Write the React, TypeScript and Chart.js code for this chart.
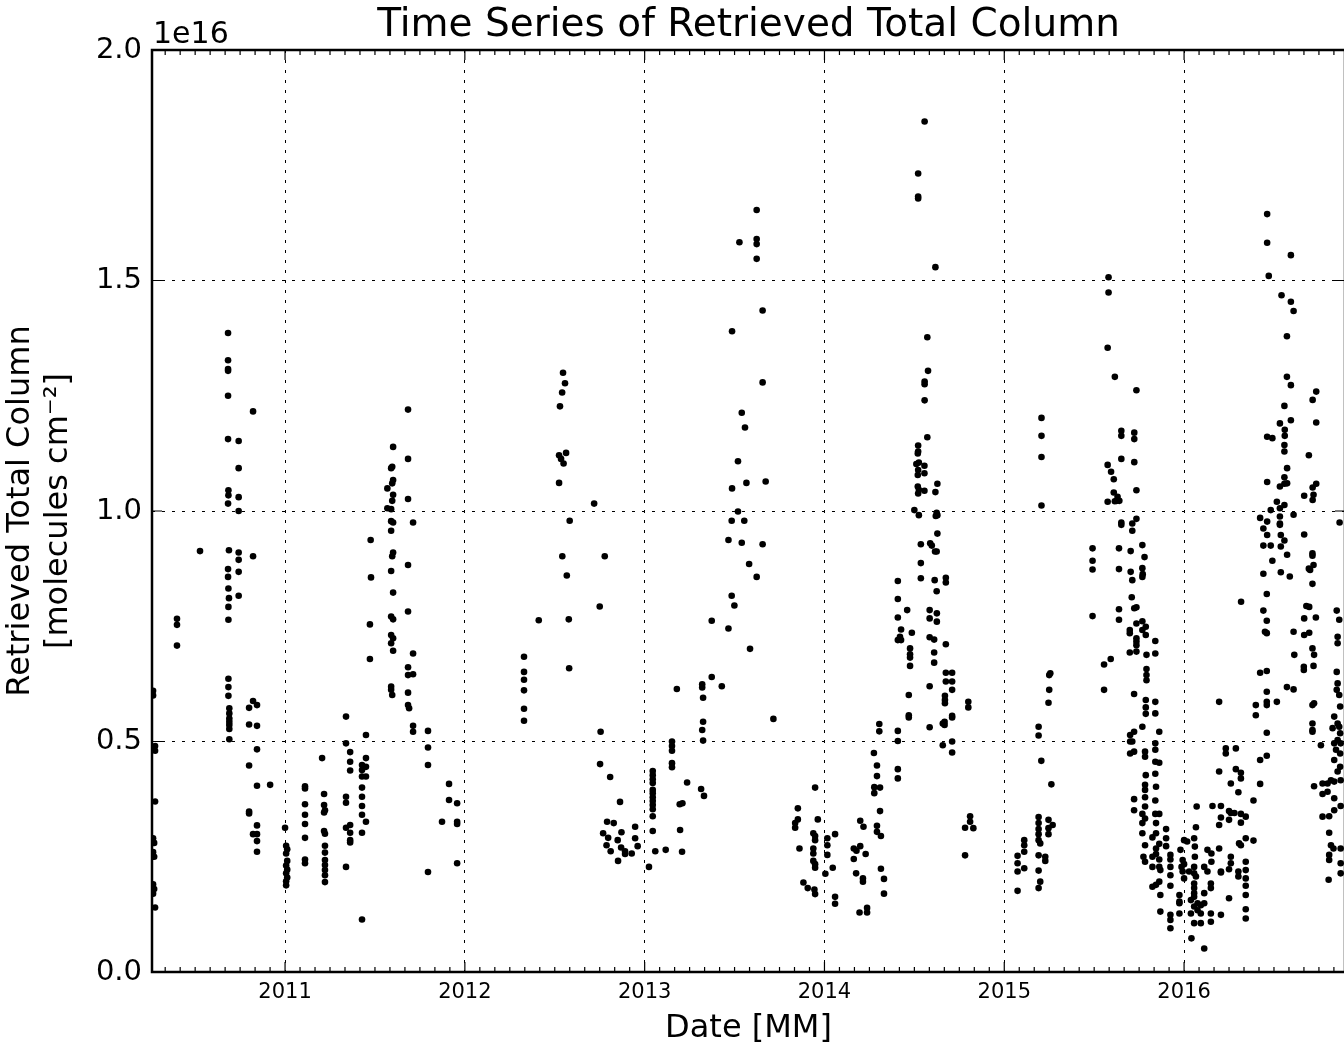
import React, { useEffect, useRef } from "react";
import { Chart, registerables } from "chart.js";

Chart.register(...registerables);

const FONT = "'DejaVu Sans', sans-serif";
const TITLE = "Time Series of Retrieved Total Column";
const X_TITLE = "Date [MM]";
const Y_TITLE = ["Retrieved Total Column", "[molecules cm\u207B\u00B2]"];
const OFFSET_TEXT = "1e16";
const YEAR_TICKS = [2011, 2012, 2013, 2014, 2015, 2016];
const Y_TICKS = [0, 0.5, 1.0, 1.5, 2.0];
const X_MIN = 2010.26;
const X_MAX = 2016.895;
const Y_MIN = 0;
const Y_MAX = 2.0;
const MONTHS_PER_YEAR = 12;

type P = [number, number]; // [decimal year, total column in 1e16 molecules cm^-2]

const season2010: P[] = [
  [2010.266, 0.61], [2010.266, 0.6], [2010.277, 0.49], [2010.277, 0.48], [2010.277, 0.37], [2010.266, 0.29],
  [2010.272, 0.28], [2010.266, 0.26], [2010.272, 0.25], [2010.266, 0.19], [2010.272, 0.18], [2010.266, 0.17], [2010.277, 0.14],
  [2010.399, 0.766], [2010.399, 0.753], [2010.399, 0.708], [2010.527, 0.913],
  [2010.683, 1.386], [2010.683, 1.327], [2010.683, 1.308], [2010.683, 1.304], [2010.683, 1.25], [2010.683, 1.156],
  [2010.685, 1.045], [2010.685, 1.034], [2010.683, 1.016], [2010.688, 0.915], [2010.683, 0.874], [2010.683, 0.857],
  [2010.685, 0.832], [2010.688, 0.811], [2010.685, 0.792], [2010.685, 0.764], [2010.685, 0.636], [2010.685, 0.618],
  [2010.685, 0.599], [2010.69, 0.572], [2010.69, 0.561], [2010.69, 0.55], [2010.69, 0.543], [2010.69, 0.536],
  [2010.69, 0.527], [2010.69, 0.505],
  [2010.742, 1.152], [2010.742, 1.093], [2010.742, 1.03], [2010.742, 1.0], [2010.742, 0.91], [2010.742, 0.894],
  [2010.742, 0.868], [2010.742, 0.816],
  [2010.822, 1.216], [2010.822, 0.902], [2010.8, 0.573], [2010.822, 0.588], [2010.844, 0.579], [2010.8, 0.537],
  [2010.844, 0.534], [2010.844, 0.483], [2010.8, 0.448], [2010.844, 0.404], [2010.8, 0.348], [2010.8, 0.344],
  [2010.844, 0.318], [2010.822, 0.299], [2010.844, 0.299], [2010.844, 0.284], [2010.844, 0.261], [2010.917, 0.406],
];

const season2011: P[] = [
  [2011.0, 0.313], [2011.006, 0.274], [2011.012, 0.266], [2011.006, 0.257], [2011.012, 0.241], [2011.006, 0.231],
  [2011.012, 0.222], [2011.006, 0.214], [2011.012, 0.205], [2011.006, 0.197], [2011.006, 0.188],
  [2011.111, 0.403], [2011.111, 0.398], [2011.111, 0.364], [2011.111, 0.341], [2011.111, 0.321], [2011.111, 0.291],
  [2011.111, 0.244], [2011.111, 0.236],
  [2011.206, 0.464], [2011.217, 0.386], [2011.217, 0.362], [2011.222, 0.351], [2011.217, 0.346], [2011.217, 0.306],
  [2011.222, 0.3], [2011.222, 0.274], [2011.222, 0.259], [2011.222, 0.243], [2011.222, 0.232], [2011.222, 0.221],
  [2011.222, 0.21], [2011.222, 0.195],
  [2011.339, 0.554], [2011.339, 0.496], [2011.339, 0.38], [2011.339, 0.367], [2011.339, 0.313], [2011.339, 0.228],
  [2011.362, 0.477], [2011.362, 0.456], [2011.362, 0.437], [2011.362, 0.319], [2011.362, 0.302], [2011.362, 0.286],
  [2011.362, 0.281],
  [2011.428, 0.449], [2011.428, 0.438], [2011.428, 0.424], [2011.428, 0.4], [2011.428, 0.38], [2011.428, 0.36],
  [2011.428, 0.341], [2011.428, 0.302], [2011.428, 0.114],
  [2011.45, 0.514], [2011.45, 0.464], [2011.45, 0.445], [2011.45, 0.424], [2011.45, 0.326],
  [2011.476, 0.937], [2011.478, 0.856], [2011.472, 0.754], [2011.472, 0.679],
  [2011.601, 1.139], [2011.596, 1.096], [2011.59, 1.093], [2011.601, 1.067], [2011.596, 1.06], [2011.569, 1.049],
  [2011.601, 1.035], [2011.596, 1.022], [2011.569, 1.006], [2011.59, 1.004], [2011.59, 0.978], [2011.601, 0.975],
  [2011.59, 0.957], [2011.601, 0.91], [2011.596, 0.902], [2011.59, 0.87], [2011.601, 0.823], [2011.59, 0.771],
  [2011.601, 0.765], [2011.59, 0.731], [2011.601, 0.724], [2011.59, 0.713], [2011.601, 0.697], [2011.59, 0.619],
  [2011.59, 0.612], [2011.596, 0.601],
  [2011.684, 1.22], [2011.684, 1.113], [2011.684, 1.026], [2011.684, 0.883], [2011.684, 0.782], [2011.684, 0.661],
  [2011.684, 0.644], [2011.684, 0.606], [2011.684, 0.579], [2011.69, 0.572],
  [2011.712, 0.975], [2011.712, 0.691], [2011.712, 0.646], [2011.712, 0.534], [2011.712, 0.521],
  [2011.795, 0.523], [2011.795, 0.487], [2011.795, 0.449], [2011.795, 0.217],
  [2011.873, 0.326], [2011.912, 0.408], [2011.912, 0.373], [2011.957, 0.366], [2011.957, 0.326], [2011.957, 0.321],
  [2011.957, 0.236],
];

const season2012: P[] = [
  [2012.329, 0.684], [2012.329, 0.651], [2012.329, 0.634], [2012.329, 0.611], [2012.329, 0.571], [2012.329, 0.545],
  [2012.411, 0.763],
  [2012.546, 1.3], [2012.557, 1.277], [2012.541, 1.257], [2012.529, 1.227], [2012.563, 1.126], [2012.524, 1.121],
  [2012.535, 1.113], [2012.549, 1.103], [2012.524, 1.061], [2012.583, 0.979], [2012.542, 0.902], [2012.567, 0.86],
  [2012.578, 0.765], [2012.58, 0.659],
  [2012.719, 1.016], [2012.778, 0.902], [2012.75, 0.793], [2012.755, 0.521], [2012.752, 0.451], [2012.808, 0.423],
  [2012.863, 0.369],
  [2012.791, 0.326], [2012.828, 0.323], [2012.769, 0.301], [2012.797, 0.291], [2012.871, 0.303], [2012.947, 0.315],
  [2012.947, 0.29], [2012.85, 0.286], [2012.788, 0.275], [2012.961, 0.273], [2012.869, 0.27], [2012.811, 0.262],
  [2012.891, 0.262], [2012.891, 0.256], [2012.928, 0.257], [2012.852, 0.241],
];

const season2013: P[] = [
  [2013.024, 0.228],
  [2013.045, 0.436], [2013.045, 0.427], [2013.045, 0.418], [2013.045, 0.41], [2013.045, 0.395], [2013.045, 0.388],
  [2013.045, 0.379], [2013.045, 0.371], [2013.045, 0.362], [2013.045, 0.353], [2013.045, 0.338], [2013.045, 0.306],
  [2013.059, 0.262], [2013.117, 0.265],
  [2013.152, 0.5], [2013.152, 0.49], [2013.152, 0.48], [2013.152, 0.453], [2013.152, 0.444],
  [2013.179, 0.614], [2013.236, 0.411], [2013.195, 0.364], [2013.21, 0.366], [2013.197, 0.308], [2013.208, 0.261],
  [2013.314, 0.397], [2013.33, 0.382],
  [2013.32, 0.624], [2013.32, 0.617], [2013.325, 0.595], [2013.325, 0.543], [2013.32, 0.525], [2013.325, 0.502],
  [2013.373, 0.64], [2013.373, 0.762], [2013.429, 0.62], [2013.466, 0.745], [2013.484, 0.816], [2013.499, 0.795],
  [2013.586, 0.701], [2013.581, 0.885], [2013.623, 0.857], [2013.716, 0.549],
  [2013.623, 1.653], [2013.623, 1.59], [2013.623, 1.579], [2013.623, 1.547], [2013.527, 1.583], [2013.656, 1.435],
  [2013.656, 1.279], [2013.656, 0.928], [2013.486, 1.39], [2013.486, 1.049], [2013.484, 0.979], [2013.54, 1.213],
  [2013.54, 0.931], [2013.558, 1.181], [2013.554, 0.979], [2013.519, 1.108], [2013.519, 0.999], [2013.566, 1.061],
  [2013.673, 1.064], [2013.466, 0.937],
  [2013.948, 0.4], [2013.852, 0.355], [2013.852, 0.331], [2013.837, 0.323], [2013.837, 0.313], [2013.963, 0.331],
  [2013.938, 0.301], [2013.948, 0.295], [2013.948, 0.286], [2013.861, 0.268], [2013.938, 0.268], [2013.938, 0.257],
  [2013.938, 0.241], [2013.948, 0.234], [2013.948, 0.226], [2013.883, 0.194], [2013.907, 0.182], [2013.944, 0.179],
  [2013.948, 0.169],
];

const season2014: P[] = [
  [2014.016, 0.29], [2014.016, 0.275], [2014.059, 0.299], [2014.016, 0.254], [2014.046, 0.226], [2014.005, 0.213],
  [2014.059, 0.163], [2014.059, 0.148],
  [2014.199, 0.328], [2014.217, 0.315], [2014.163, 0.268], [2014.178, 0.263], [2014.199, 0.273], [2014.229, 0.256],
  [2014.163, 0.245], [2014.176, 0.214], [2014.214, 0.203], [2014.214, 0.196], [2014.195, 0.129], [2014.237, 0.139],
  [2014.237, 0.129],
  [2014.305, 0.538], [2014.305, 0.522], [2014.275, 0.475], [2014.292, 0.448], [2014.292, 0.425], [2014.277, 0.401],
  [2014.277, 0.388], [2014.309, 0.4], [2014.309, 0.349], [2014.292, 0.317], [2014.292, 0.304], [2014.314, 0.295],
  [2014.314, 0.224], [2014.331, 0.202], [2014.331, 0.17],
  [2014.408, 0.848], [2014.408, 0.809], [2014.408, 0.769], [2014.408, 0.72], [2014.408, 0.523], [2014.408, 0.501],
  [2014.408, 0.44], [2014.408, 0.42], [2014.426, 0.743], [2014.42, 0.727], [2014.426, 0.72], [2014.46, 0.785],
  [2014.486, 0.736],
  [2014.476, 0.702], [2014.476, 0.689], [2014.476, 0.682], [2014.476, 0.664], [2014.469, 0.601], [2014.469, 0.557],
  [2014.469, 0.552],
  [2014.557, 1.845], [2014.521, 1.732], [2014.521, 1.682], [2014.521, 1.678], [2014.617, 1.529], [2014.572, 1.377],
  [2014.576, 1.304], [2014.557, 1.281], [2014.557, 1.275], [2014.557, 1.24], [2014.572, 1.16], [2014.521, 1.142],
  [2014.521, 1.129], [2014.519, 1.125], [2014.511, 1.102], [2014.525, 1.105], [2014.556, 1.098], [2014.521, 1.089],
  [2014.519, 1.078], [2014.556, 1.082], [2014.628, 1.059], [2014.519, 1.053], [2014.525, 1.046], [2014.521, 1.038],
  [2014.556, 1.044], [2014.617, 1.041], [2014.5, 1.002], [2014.525, 0.991], [2014.624, 0.996], [2014.628, 0.991],
  [2014.619, 0.989],
  [2014.628, 0.951], [2014.536, 0.928], [2014.588, 0.93], [2014.597, 0.925], [2014.615, 0.912], [2014.624, 0.912],
  [2014.536, 0.887], [2014.536, 0.854], [2014.613, 0.85], [2014.675, 0.855], [2014.675, 0.845], [2014.624, 0.826],
  [2014.585, 0.785], [2014.585, 0.767], [2014.625, 0.778], [2014.625, 0.76], [2014.585, 0.726], [2014.61, 0.721],
  [2014.675, 0.711], [2014.61, 0.693], [2014.61, 0.671], [2014.675, 0.649], [2014.71, 0.649], [2014.675, 0.63],
  [2014.71, 0.63], [2014.71, 0.612], [2014.67, 0.599], [2014.67, 0.59], [2014.67, 0.583], [2014.585, 0.62],
  [2014.8, 0.586], [2014.8, 0.574], [2014.71, 0.556], [2014.71, 0.552], [2014.585, 0.531], [2014.668, 0.543],
  [2014.658, 0.539], [2014.668, 0.536], [2014.658, 0.492], [2014.71, 0.5], [2014.71, 0.476],
  [2014.782, 0.253], [2014.81, 0.338], [2014.81, 0.326], [2014.782, 0.313], [2014.828, 0.312],
];

const season2015: P[] = [
  [2015.074, 0.252], [2015.074, 0.236], [2015.074, 0.218], [2015.074, 0.176],
  [2015.111, 0.286], [2015.111, 0.275], [2015.111, 0.261], [2015.111, 0.225],
  [2015.191, 0.532], [2015.191, 0.513], [2015.207, 1.202], [2015.207, 1.163], [2015.207, 1.117], [2015.207, 1.012],
  [2015.206, 0.458], [2015.262, 0.407],
  [2015.25, 0.644], [2015.25, 0.612], [2015.246, 0.584], [2015.256, 0.648],
  [2015.246, 0.33], [2015.246, 0.312], [2015.246, 0.299], [2015.269, 0.319],
  [2015.191, 0.336], [2015.191, 0.323], [2015.191, 0.31], [2015.191, 0.299], [2015.191, 0.286], [2015.2, 0.279],
  [2015.191, 0.253], [2015.228, 0.25], [2015.228, 0.241], [2015.191, 0.22], [2015.2, 0.196], [2015.191, 0.182],
  [2015.491, 0.919], [2015.491, 0.892], [2015.491, 0.873], [2015.491, 0.772],
];

const season2015Late: P[] = [
  [2015.58, 1.507], [2015.58, 1.474], [2015.575, 1.354], [2015.615, 1.291], [2015.735, 1.262], [2015.651, 1.174],
  [2015.651, 1.163], [2015.723, 1.17], [2015.723, 1.156], [2015.651, 1.113], [2015.723, 1.106], [2015.575, 1.1],
  [2015.594, 1.085], [2015.609, 1.069], [2015.735, 1.045], [2015.609, 1.04], [2015.63, 1.031], [2015.64, 1.022],
  [2015.615, 1.021], [2015.575, 1.02], [2015.625, 1.022], [2015.651, 0.975], [2015.651, 0.97], [2015.712, 0.973],
  [2015.712, 0.957], [2015.735, 0.983], [2015.768, 0.926], [2015.78, 0.9], [2015.768, 0.876], [2015.77, 0.863],
  [2015.768, 0.857], [2015.638, 0.919], [2015.703, 0.913], [2015.638, 0.874], [2015.703, 0.868], [2015.712, 0.85],
  [2015.638, 0.787], [2015.638, 0.764], [2015.709, 0.813], [2015.723, 0.789], [2015.735, 0.791], [2015.698, 0.742],
  [2015.698, 0.735], [2015.735, 0.756], [2015.735, 0.724], [2015.735, 0.717], [2015.735, 0.709], [2015.698, 0.693],
  [2015.735, 0.695], [2015.768, 0.761], [2015.787, 0.749], [2015.768, 0.742], [2015.787, 0.731], [2015.84, 0.718],
  [2015.84, 0.691], [2015.791, 0.688], [2015.555, 0.667], [2015.592, 0.679], [2015.555, 0.612], [2015.791, 0.657],
  [2015.791, 0.644], [2015.791, 0.633], [2015.722, 0.603], [2015.787, 0.59], [2015.84, 0.586], [2015.787, 0.574],
  [2015.787, 0.56], [2015.84, 0.561], [2015.768, 0.532], [2015.722, 0.521], [2015.862, 0.521], [2015.7, 0.514],
  [2015.7, 0.5], [2015.712, 0.5], [2015.7, 0.474], [2015.722, 0.478], [2015.783, 0.478], [2015.783, 0.467],
  [2015.84, 0.496], [2015.84, 0.482], [2015.84, 0.456], [2015.862, 0.454],
  [2015.787, 0.427], [2015.84, 0.43], [2015.783, 0.406], [2015.844, 0.402], [2015.783, 0.395], [2015.783, 0.379],
  [2015.84, 0.372], [2015.722, 0.375], [2015.722, 0.351], [2015.783, 0.359], [2015.768, 0.343], [2015.783, 0.333],
  [2015.84, 0.343], [2015.862, 0.343], [2015.768, 0.323], [2015.844, 0.323], [2015.844, 0.301], [2015.824, 0.292],
  [2015.768, 0.301], [2015.783, 0.275], [2015.9, 0.31], [2015.9, 0.29], [2015.9, 0.273], [2015.862, 0.278],
  [2015.844, 0.268], [2015.844, 0.256], [2015.824, 0.25], [2015.774, 0.25], [2015.783, 0.239], [2015.862, 0.244],
  [2015.824, 0.228], [2015.862, 0.228], [2015.924, 0.254], [2015.924, 0.244], [2015.924, 0.228], [2015.924, 0.21],
  [2015.868, 0.221], [2015.862, 0.196], [2015.824, 0.185], [2015.844, 0.189], [2015.924, 0.187], [2015.868, 0.167],
  [2015.974, 0.167], [2015.974, 0.153], [2015.924, 0.124], [2015.924, 0.113], [2015.924, 0.095], [2015.868, 0.131],
  [2015.974, 0.127], [2015.974, 0.149], [2015.98, 0.265], [2015.992, 0.243], [2015.986, 0.228], [2015.992, 0.218],
];

const season2016: P[] = [
  [2016.0, 0.286], [2016.017, 0.283], [2016.056, 0.29], [2016.066, 0.314], [2016.06, 0.272], [2016.06, 0.25],
  [2016.0, 0.234], [2016.0, 0.203], [2016.028, 0.218], [2016.056, 0.228], [2016.056, 0.214], [2016.066, 0.207],
  [2016.056, 0.192], [2016.056, 0.182], [2016.056, 0.171], [2016.056, 0.163], [2016.038, 0.156], [2016.075, 0.149],
  [2016.056, 0.142], [2016.093, 0.145], [2016.112, 0.149], [2016.075, 0.134], [2016.038, 0.127], [2016.093, 0.127],
  [2016.056, 0.106], [2016.093, 0.106], [2016.112, 0.228], [2016.13, 0.265], [2016.152, 0.257], [2016.152, 0.239],
  [2016.13, 0.218], [2016.149, 0.192], [2016.149, 0.182], [2016.112, 0.171], [2016.205, 0.124], [2016.149, 0.127],
  [2016.149, 0.109], [2016.205, 0.218], [2016.195, 0.268], [2016.041, 0.073], [2016.112, 0.051], [2016.07, 0.359],
  [2016.195, 0.586], [2016.158, 0.36], [2016.205, 0.36], [2016.205, 0.335], [2016.195, 0.319], [2016.232, 0.485],
  [2016.288, 0.485], [2016.232, 0.474], [2016.195, 0.435], [2016.288, 0.44], [2016.316, 0.432], [2016.316, 0.42],
  [2016.26, 0.409], [2016.302, 0.39], [2016.25, 0.349], [2016.26, 0.345], [2016.28, 0.345], [2016.316, 0.343],
  [2016.343, 0.337], [2016.25, 0.33], [2016.316, 0.324], [2016.386, 0.372], [2016.343, 0.29], [2016.386, 0.285],
  [2016.306, 0.279], [2016.316, 0.275], [2016.26, 0.25], [2016.26, 0.236], [2016.25, 0.223], [2016.205, 0.216],
  [2016.302, 0.218], [2016.302, 0.207], [2016.343, 0.239], [2016.343, 0.221], [2016.343, 0.203], [2016.343, 0.187],
  [2016.343, 0.167], [2016.343, 0.136], [2016.343, 0.116], [2016.25, 0.16], [2016.423, 0.46], [2016.423, 0.408],
  [2016.46, 0.469], [2016.46, 0.519], [2016.399, 0.579], [2016.399, 0.557], [2016.46, 0.608], [2016.46, 0.586],
  [2016.46, 0.579], [2016.516, 0.586], [2016.423, 0.649], [2016.46, 0.653],
  [2016.462, 1.644], [2016.462, 1.582], [2016.594, 1.555], [2016.471, 1.51], [2016.542, 1.468], [2016.594, 1.454],
  [2016.609, 1.434], [2016.572, 1.379], [2016.572, 1.291], [2016.594, 1.273], [2016.735, 1.259], [2016.715, 1.241],
  [2016.558, 1.228], [2016.735, 1.192], [2016.533, 1.19], [2016.594, 1.197], [2016.56, 1.176], [2016.56, 1.163],
  [2016.462, 1.161], [2016.491, 1.158], [2016.558, 1.143], [2016.558, 1.129], [2016.694, 1.121], [2016.573, 1.093],
  [2016.462, 1.063], [2016.558, 1.073], [2016.533, 1.053], [2016.558, 1.059], [2016.573, 1.06], [2016.735, 1.059],
  [2016.715, 1.051], [2016.72, 1.035], [2016.668, 1.033], [2016.715, 1.024], [2016.516, 1.02], [2016.482, 1.002],
  [2016.558, 1.013], [2016.533, 1.006], [2016.609, 0.992], [2016.423, 0.985], [2016.462, 0.977], [2016.441, 0.962],
  [2016.533, 0.988], [2016.533, 0.973], [2016.533, 0.97], [2016.462, 0.948], [2016.538, 0.948], [2016.558, 0.936],
  [2016.538, 0.923], [2016.441, 0.925], [2016.482, 0.925], [2016.573, 0.905], [2016.491, 0.892], [2016.668, 0.949],
  [2016.714, 0.908], [2016.714, 0.903], [2016.694, 0.875], [2016.701, 0.872], [2016.72, 0.883], [2016.714, 0.842],
  [2016.441, 0.864], [2016.538, 0.867], [2016.588, 0.858], [2016.865, 0.975],
  [2016.46, 0.82], [2016.441, 0.784], [2016.46, 0.762], [2016.45, 0.738], [2016.46, 0.735], [2016.317, 0.803],
  [2016.572, 0.618], [2016.609, 0.613], [2016.609, 0.738], [2016.613, 0.688], [2016.668, 0.731], [2016.696, 0.736],
  [2016.668, 0.767], [2016.696, 0.792], [2016.733, 0.769], [2016.68, 0.794], [2016.714, 0.702], [2016.723, 0.688],
  [2016.72, 0.664], [2016.666, 0.662], [2016.666, 0.655], [2016.714, 0.579], [2016.723, 0.583], [2016.714, 0.539],
  [2016.714, 0.525], [2016.714, 0.521], [2016.761, 0.492],
  [2016.849, 0.784], [2016.863, 0.764], [2016.854, 0.727], [2016.854, 0.713], [2016.849, 0.651], [2016.854, 0.626],
  [2016.849, 0.612], [2016.863, 0.601], [2016.868, 0.576], [2016.835, 0.554], [2016.854, 0.539], [2016.826, 0.529],
  [2016.863, 0.532], [2016.868, 0.518], [2016.854, 0.503], [2016.835, 0.496], [2016.871, 0.496], [2016.845, 0.482],
  [2016.868, 0.474], [2016.835, 0.46], [2016.868, 0.445], [2016.854, 0.435], [2016.871, 0.416], [2016.835, 0.413],
  [2016.817, 0.416], [2016.798, 0.409], [2016.77, 0.409], [2016.723, 0.403], [2016.77, 0.386], [2016.798, 0.391],
  [2016.835, 0.377], [2016.871, 0.36], [2016.835, 0.351], [2016.807, 0.338], [2016.77, 0.337], [2016.807, 0.302],
  [2016.817, 0.275], [2016.831, 0.268], [2016.807, 0.254], [2016.807, 0.243], [2016.871, 0.268], [2016.871, 0.236],
  [2016.871, 0.214], [2016.804, 0.2],
];

const SEASONS: P[][] = [season2010, season2011, season2012, season2013, season2014, season2015, season2015Late, season2016];

const framePlugin = {
  id: "mplFrame",
  afterDraw(chart: any) {
    const { ctx, chartArea } = chart;
    const { left, right, top, bottom } = chartArea;
    const xs = chart.scales.x;
    const ys = chart.scales.y;
    ctx.save();
    ctx.setLineDash([]);
    ctx.strokeStyle = "#000";
    ctx.lineWidth = 1.2;
    ctx.beginPath();
    const major = 10;
    const minor = 5;
    YEAR_TICKS.forEach((v) => {
      const px = xs.getPixelForValue(v);
      ctx.moveTo(px, bottom);
      ctx.lineTo(px, bottom - major);
      ctx.moveTo(px, top);
      ctx.lineTo(px, top + major);
    });
    for (let m = Math.ceil(X_MIN * MONTHS_PER_YEAR); m <= Math.floor(X_MAX * MONTHS_PER_YEAR); m++) {
      if (m % MONTHS_PER_YEAR === 0) continue;
      const px = xs.getPixelForValue(m / MONTHS_PER_YEAR);
      ctx.moveTo(px, bottom);
      ctx.lineTo(px, bottom - minor);
      ctx.moveTo(px, top);
      ctx.lineTo(px, top + minor);
    }
    Y_TICKS.forEach((v) => {
      const py = ys.getPixelForValue(v);
      ctx.moveTo(left, py);
      ctx.lineTo(left + major, py);
      ctx.moveTo(right, py);
      ctx.lineTo(right - major, py);
    });
    ctx.stroke();
    ctx.lineWidth = 2.5;
    ctx.strokeRect(left, top, right - left, bottom - top);
    ctx.fillStyle = "#000";
    ctx.font = `30px ${FONT}`;
    ctx.textAlign = "left";
    ctx.textBaseline = "alphabetic";
    ctx.fillText(OFFSET_TEXT, left + 1, top - 7);
    ctx.restore();
  },
};

export default function App() {
  const ref = useRef<HTMLCanvasElement | null>(null);
  useEffect(() => {
    if (!ref.current) return;
    const points = SEASONS.flat().map(([x, y]) => ({ x, y }));
    const chart = new Chart(ref.current, {
      type: "scatter",
      data: {
        datasets: [
          {
            data: points,
            backgroundColor: "#000",
            borderColor: "#000",
            borderWidth: 0,
            pointRadius: 3.3,
            pointHoverRadius: 3.3,
            clip: 0,
          } as any,
        ],
      },
      options: {
        animation: false,
        responsive: false,
        maintainAspectRatio: false,
        events: [],
        layout: { padding: { left: 0, top: 0, right: 55, bottom: 0 } },
        plugins: {
          legend: { display: false },
          tooltip: { enabled: false },
          title: {
            display: true,
            text: TITLE,
            fullSize: false,
            color: "#000",
            font: { family: FONT, size: 39, weight: "normal" },
            padding: { top: 2, bottom: 1.2 },
          },
        },
        scales: {
          x: {
            type: "linear",
            min: X_MIN,
            max: X_MAX,
            afterBuildTicks: (s: any) => {
              s.ticks = YEAR_TICKS.map((v) => ({ value: v }));
            },
            afterFit: (s: any) => {
              s.height = 76;
            },
            ticks: {
              callback: (v: any) => String(v),
              color: "#000",
              font: { family: FONT, size: 21 },
              padding: 8,
              maxRotation: 0,
              autoSkip: false,
            },
            grid: { color: "#000", lineWidth: 1, drawTicks: false },
            border: { display: false, dash: [3, 7] },
            title: {
              display: true,
              text: X_TITLE,
              color: "#000",
              font: { family: FONT, size: 32 },
              padding: { top: 0, bottom: 0 },
            },
          },
          y: {
            type: "linear",
            min: Y_MIN,
            max: Y_MAX,
            afterBuildTicks: (s: any) => {
              s.ticks = Y_TICKS.map((v) => ({ value: v }));
            },
            afterFit: (s: any) => {
              s.width = 152;
            },
            ticks: {
              callback: (v: any) => Number(v).toFixed(1),
              color: "#000",
              font: { family: FONT, size: 29 },
              padding: 10,
            },
            grid: { color: "#000", lineWidth: 1, drawTicks: false },
            border: { display: false, dash: [3, 7] },
            title: {
              display: true,
              text: Y_TITLE,
              color: "#000",
              font: { family: FONT, size: 32 },
              padding: { top: 1, bottom: 0 },
            },
          },
        },
      } as any,
      plugins: [framePlugin],
    });
    return () => chart.destroy();
  }, []);

  return (
    <div
      style={{
        position: "absolute",
        left: 0,
        top: 0,
        width: 1344,
        height: 1048,
        overflow: "hidden",
        background: "#fff",
      }}
    >
      <canvas ref={ref} width={1400} height={1048} style={{ display: "block" }} />
    </div>
  );
}
